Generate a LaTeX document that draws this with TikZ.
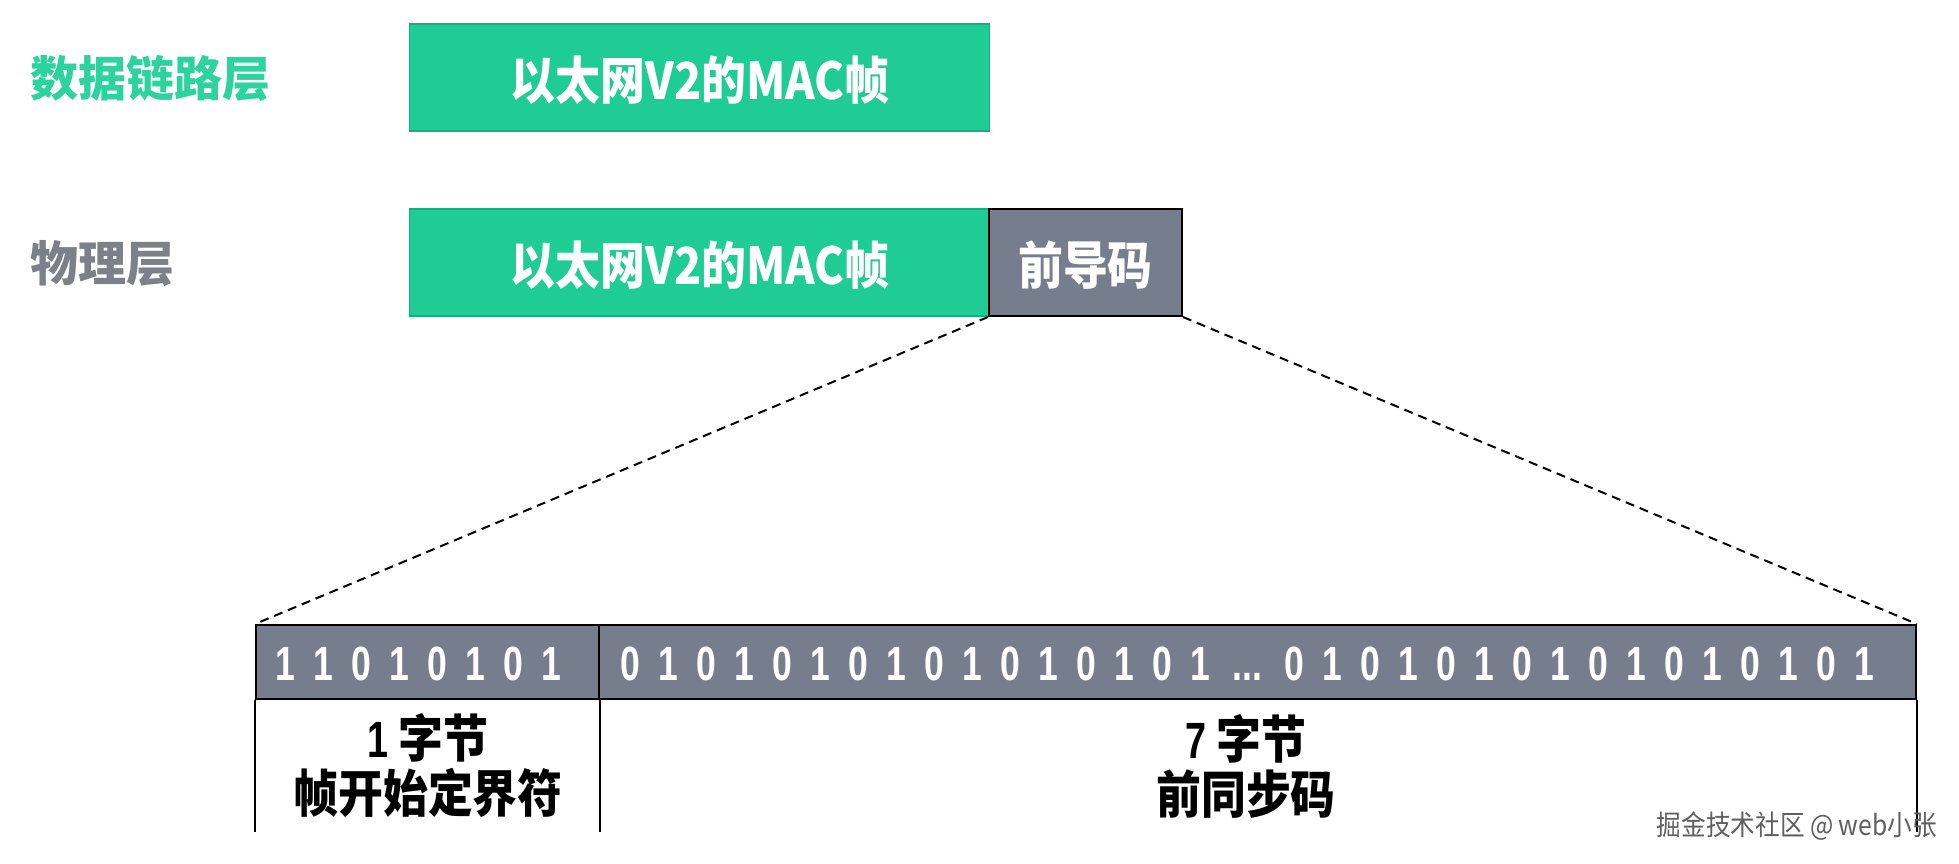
\documentclass[tikz,border=0pt]{standalone}
\usepackage{fontspec}
\newfontfamily\cjk{Noto Sans CJK SC}
\newfontfamily\cjkn{Noto Sans CJK SC}[FakeStretch=0.88]
\newfontfamily\narrow{Liberation Sans}[FakeStretch=0.74]
\definecolor{mgreen}{RGB}{30,204,148}
\definecolor{mgreenline}{RGB}{22,175,128}
\definecolor{lgreen}{RGB}{44,211,156}
\definecolor{mgray}{RGB}{118,125,141}
\definecolor{lgray}{RGB}{124,128,137}
\definecolor{wmark}{RGB}{95,95,95}
\newcommand\bslot[1]{\makebox[38pt]{#1}}
\newcommand\bpair{\bslot{0}\bslot{1}}
\newcommand\bdots{\makebox[56pt]{...}}
\begin{document}
\begin{tikzpicture}[x=1pt,y=-1pt,
  greenbox/.style={draw=mgreenline,line width=1.5pt,fill=mgreen,minimum width=580pt,minimum height=107pt,inner sep=0pt},
  graybox/.style={draw=black,line width=2pt,fill=mgray,inner sep=0pt},
  boxtext/.style={font=\cjkn\bfseries\fontsize{51}{55}\selectfont,text=white,inner sep=0pt},
  layertext/.style={font=\cjk\bfseries\fontsize{48}{52}\selectfont,inner sep=0pt,anchor=west},
  bits/.style={font=\narrow\bfseries\fontsize{48}{52}\selectfont,text=white,inner sep=0pt},
  desc/.style={font=\cjkn\bfseries\fontsize{51}{55}\selectfont,inner sep=0pt,align=center},
  zoomline/.style={dashed,dash pattern=on 9pt off 6pt,line width=2pt},
  rule/.style={line width=2pt}]
\useasboundingbox (0,0) rectangle (1959,863);
% layer labels
\node[layertext,text=lgreen] (dll) at (30,78) {数据链路层};
\node[layertext,text=lgray] (phy) at (30,264) {物理层};
% boxes
\node[greenbox] (mac1) at (699.5,77.5) {};
\node[boxtext] (mac1t) at (700,80) {以太网V2的MAC帧};
\node[greenbox] (mac2) at (699.5,262.5) {};
\node[boxtext] (mac2t) at (700,265) {以太网V2的MAC帧};
\node[graybox,minimum width=193pt,minimum height=107pt] (pre) at (1085.5,262.5) {};
\node[boxtext] (pret) at (1085.5,265) {前导码};
% bar
\node[graybox,minimum width=343pt,minimum height=74pt] (sfd) at (427.5,662) {};
\node[graybox,minimum width=1317pt,minimum height=74pt] (sync) at (1257.5,662) {};
\node[bits] (sfdt) at (418,664) {\bslot1\bslot1\bslot0\bslot1\bslot0\bslot1\bslot0\bslot1};
\node[bits,anchor=west] (synct) at (611,664) {\bpair\bpair\bpair\bpair\bpair\bpair\bpair\bpair\bdots\bpair\bpair\bpair\bpair\bpair\bpair\bpair\bpair};
% zoom lines
\draw[zoomline] (pre.south west) -- (sfd.north west);
\draw[zoomline] (pre.south east) -- (sync.north east);
% vertical rules
\coordinate (bot) at (0,832);
\draw[rule] (sfd.south west) -- (sfd.south west |- bot);
\draw[rule] (sfd.south east) -- (sfd.south east |- bot);
\draw[rule] (sync.south east) -- (sync.south east |- bot);
% descriptions
\node[desc] (sfdd) at (428,766) {{\narrow\bfseries 1} 字节\\[0pt]帧开始定界符};
\node[desc] (syncd) at (1246,766) {{\narrow\bfseries 7} 字节\\[0pt]前同步码};
% watermark
\node[font=\cjkn\fontsize{28}{30}\selectfont,text=wmark,inner sep=0pt,anchor=east] (wm) at (1937,826) {掘金技术社区 @ web小张};
\end{tikzpicture}
\end{document}
